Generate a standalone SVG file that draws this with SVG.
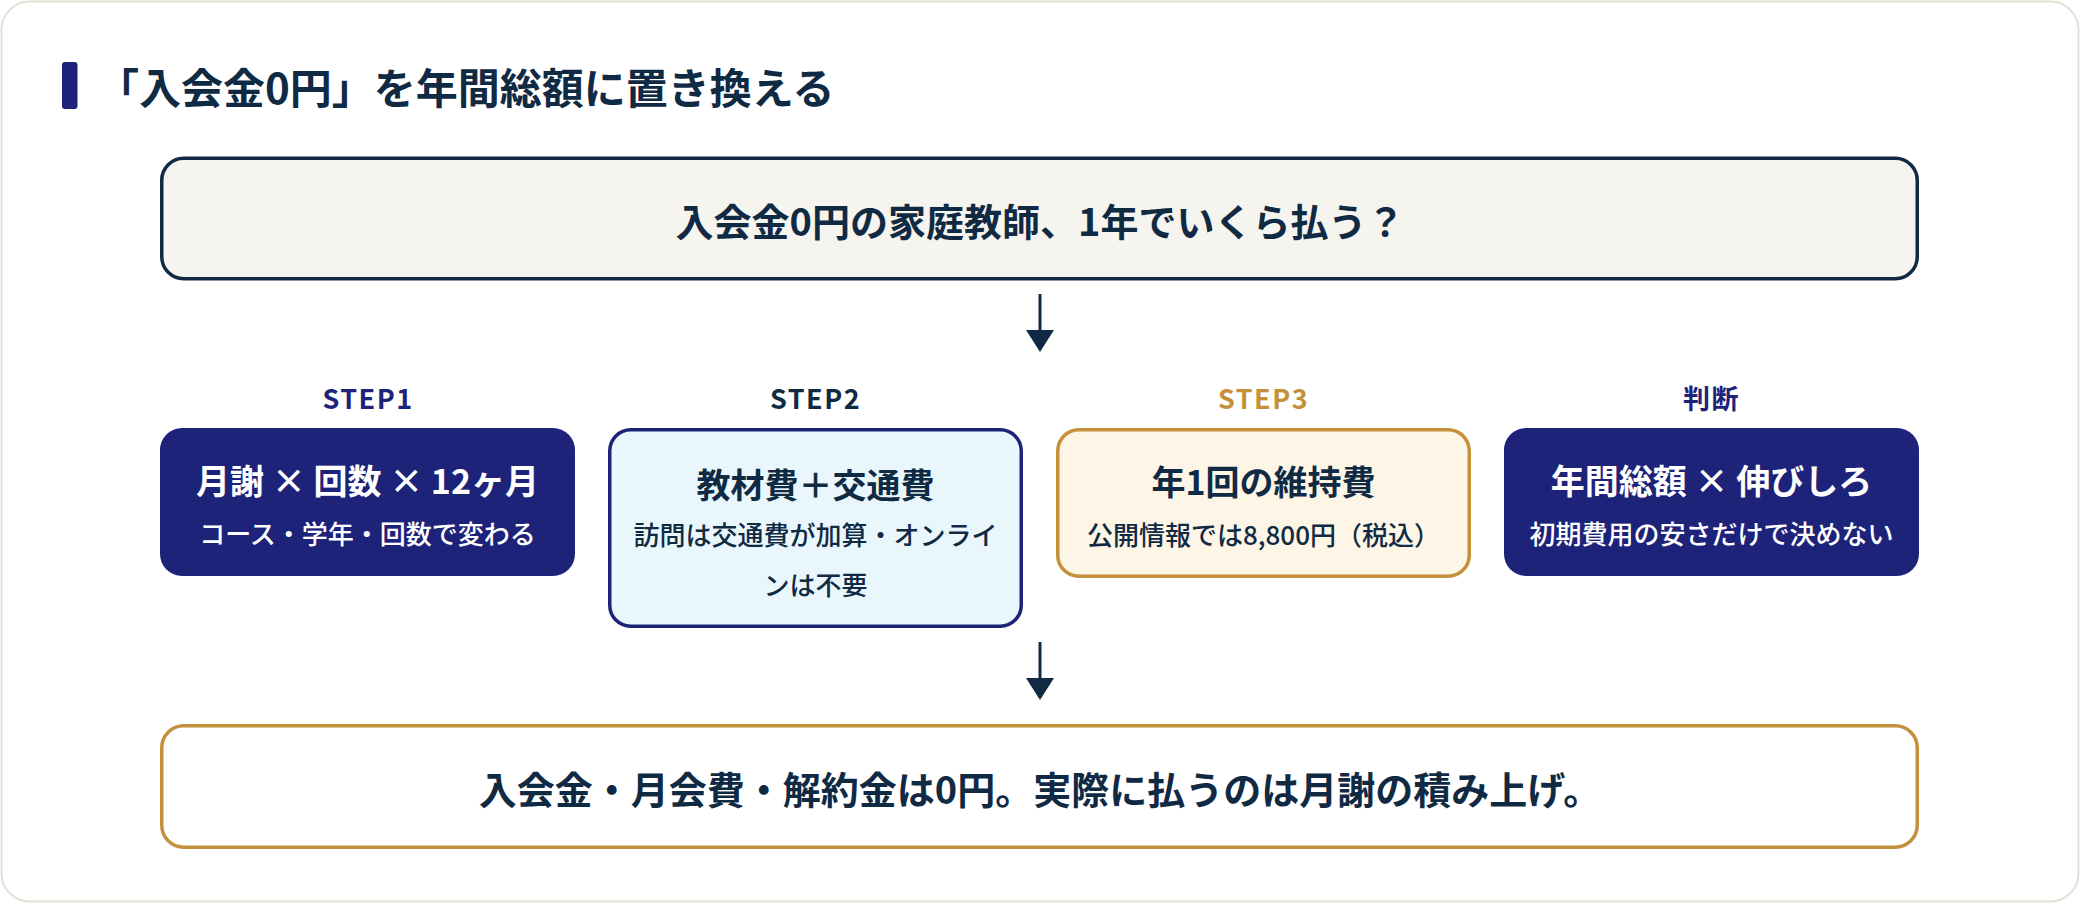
<svg xmlns="http://www.w3.org/2000/svg" width="2080" height="904" viewBox="0 0 2080 904">
<defs>
<style>
text{font-family:"Noto Sans CJK JP","Noto Sans",sans-serif;font-weight:700;}
.dark{fill:#102a43;}
.white{fill:#ffffff;}
.navyt{fill:#1e237a;}
.goldt{fill:#c4913a;}
.h1{font-size:42px;}
.big{font-size:38px;text-anchor:middle;}
.lbl{font-size:27px;text-anchor:middle;letter-spacing:1.5px;}
.ttl{font-size:34px;text-anchor:middle;}
.sub{font-size:26px;text-anchor:middle;font-weight:500;}
.navybox{fill:#1e237a;}
.conn{stroke:#102a43;stroke-width:3;fill:none;}
</style>
</defs>
<rect x="1.5" y="1.5" width="2077" height="900" rx="28" fill="#ffffff" stroke="#e4e2d5" stroke-width="2"/>
<g id="title">
<rect x="62" y="62" width="15.5" height="47" rx="3" fill="#1e237a"/>
<text class="h1 dark" x="97" y="104">「入会金0円」を年間総額に置き換える</text>
</g>
<g id="question">
<rect x="161.75" y="158.25" width="1755.5" height="120.5" rx="22" fill="#f5f4ef" stroke="#102a43" stroke-width="3.5"/>
<text class="big dark" x="1040" y="236">入会金0円の家庭教師、1年でいくら払う？</text>
</g>
<g id="connectors">
<path class="conn" d="M1040,294 L1040,331"/>
<path d="M1026,330 L1054,330 L1040,352 Z" fill="#102a43"/>
<path class="conn" d="M1040,642 L1040,679"/>
<path d="M1026,678 L1054,678 L1040,700 Z" fill="#102a43"/>
</g>
<g id="step1">
<text class="lbl navyt" x="368" y="409">STEP1</text>
<rect x="160" y="428" width="415" height="148" rx="22" class="navybox"/>
<text class="ttl white" x="367.5" y="494">月謝 × 回数 × 12ヶ月</text>
<text class="sub white" x="367.5" y="544">コース・学年・回数で変わる</text>
</g>
<g id="step2">
<text class="lbl dark" x="815.5" y="409">STEP2</text>
<rect x="609.75" y="429.75" width="411.5" height="196.5" rx="21" fill="#e9f7fd" stroke="#1e237a" stroke-width="3.5"/>
<text class="ttl dark" x="815.5" y="498">教材費＋交通費</text>
<text class="sub dark" x="815.5" y="545">訪問は交通費が加算・オンライ</text>
<text class="sub dark" x="815.5" y="595">ンは不要</text>
</g>
<g id="step3">
<text class="lbl goldt" x="1263.5" y="409">STEP3</text>
<rect x="1057.75" y="429.75" width="411.5" height="146.5" rx="21" fill="#fdf5e5" stroke="#c4913a" stroke-width="3.5"/>
<text class="ttl dark" x="1263.5" y="495">年1回の維持費</text>
<text class="sub dark" x="1263.5" y="545">公開情報では8,800円（税込）</text>
</g>
<g id="judge">
<text class="lbl navyt" x="1711.5" y="409">判断</text>
<rect x="1504" y="428" width="415" height="148" rx="22" class="navybox"/>
<text class="ttl white" x="1711.5" y="494">年間総額 × 伸びしろ</text>
<text class="sub white" x="1711.5" y="544">初期費用の安さだけで決めない</text>
</g>
<g id="conclusion">
<rect x="161.75" y="725.75" width="1755.5" height="121.5" rx="22" fill="#ffffff" stroke="#c4913a" stroke-width="3.5"/>
<text class="big dark" x="1040" y="804">入会金・月会費・解約金は0円。実際に払うのは月謝の積み上げ。</text>
</g>
</svg>
